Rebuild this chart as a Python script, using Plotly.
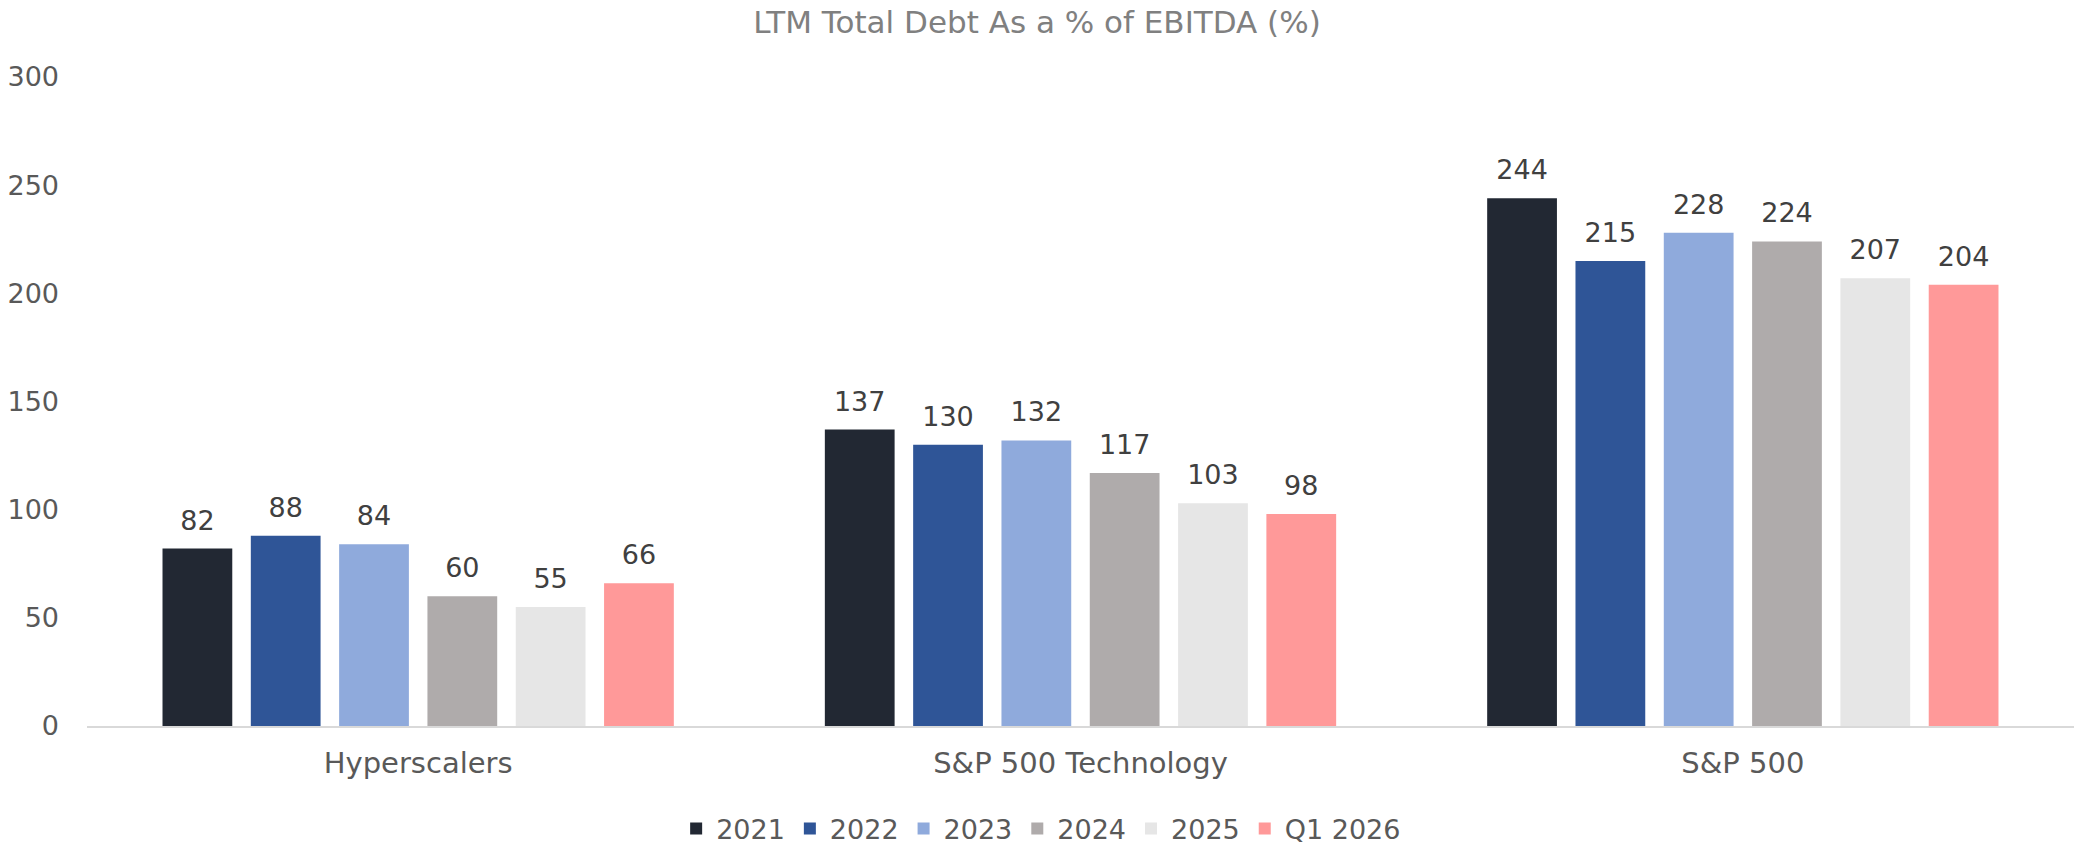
import plotly.graph_objects as go

categories = ["Hyperscalers", "S&P 500 Technology", "S&P 500"]
series_names = ["2021", "2022", "2023", "2024", "2025", "Q1 2026"]
values_2021 = [82, 137, 244]
values_2022 = [88, 130, 215]
values_2023 = [84, 132, 228]
values_2024 = [60, 117, 224]
values_2025 = [55, 103, 207]
values_q1_2026 = [66, 98, 204]
colors = ["#222833", "#2F5597", "#8FAADC", "#AFABAB", "#E6E6E6", "#FF9999"]
y_ticks = [0, 50, 100, 150, 200, 250, 300]

all_values = [values_2021, values_2022, values_2023, values_2024, values_2025, values_q1_2026]

FONT = "DejaVu Sans"
fig = go.Figure()
for name, vals, col in zip(series_names, all_values, colors):
    fig.add_trace(go.Bar(
        name=name, x=categories, y=vals,
        marker=dict(color=col, line=dict(width=0)),
        hoverinfo="x+y+name",
    ))
# value labels as grouped text points sitting above each bar
for name, vals in zip(series_names, all_values):
    fig.add_trace(go.Scatter(
        name=name + " label", x=categories, y=vals,
        mode="markers+text", text=[str(v) for v in vals],
        textposition="top center",
        marker=dict(size=18, opacity=0, color="white"),
        textfont=dict(family=FONT, size=27, color="#404040"),
        showlegend=False, hoverinfo="skip", cliponaxis=False,
    ))

fig.update_layout(
    width=2074, height=847,
    barmode="group", bargap=0.2, bargroupgap=0.21,
    scattermode="group", scattergap=0.2,
    plot_bgcolor="white", paper_bgcolor="white",
    margin=dict(l=87, r=0, t=77, b=121, autoexpand=False),
    title=dict(text="LTM Total Debt As a % of EBITDA (%)", x=0.5, xanchor="center",
               y=1 - 22 / 847, yanchor="middle",
               font=dict(family=FONT, size=31, color="#808080")),
    font=dict(family=FONT, size=27, color="#595959"),
    showlegend=True,
    legend=dict(orientation="h", xref="container", x=0.502, xanchor="center",
                yref="container", y=1 - 829 / 847, yanchor="middle",
                font=dict(family=FONT, size=27, color="#595959"),
                itemwidth=30, tracegroupgap=0),
)
fig.update_xaxes(showline=True, linecolor="#D9D9D9", linewidth=2, showgrid=False,
                 ticks="", automargin=False, ticklabelstandoff=10,
                 tickfont=dict(family=FONT, size=29, color="#595959"))
fig.update_yaxes(range=[0, 300], tickvals=y_ticks, showgrid=False, zeroline=False,
                 showline=False, ticks="", ticklabelstandoff=27, automargin=False,
                 tickfont=dict(family=FONT, size=27, color="#595959"))

fig.write_html("out.html", config={"displayModeBar": False},
               post_script="document.body.style.margin='0';document.body.style.overflow='hidden';")
